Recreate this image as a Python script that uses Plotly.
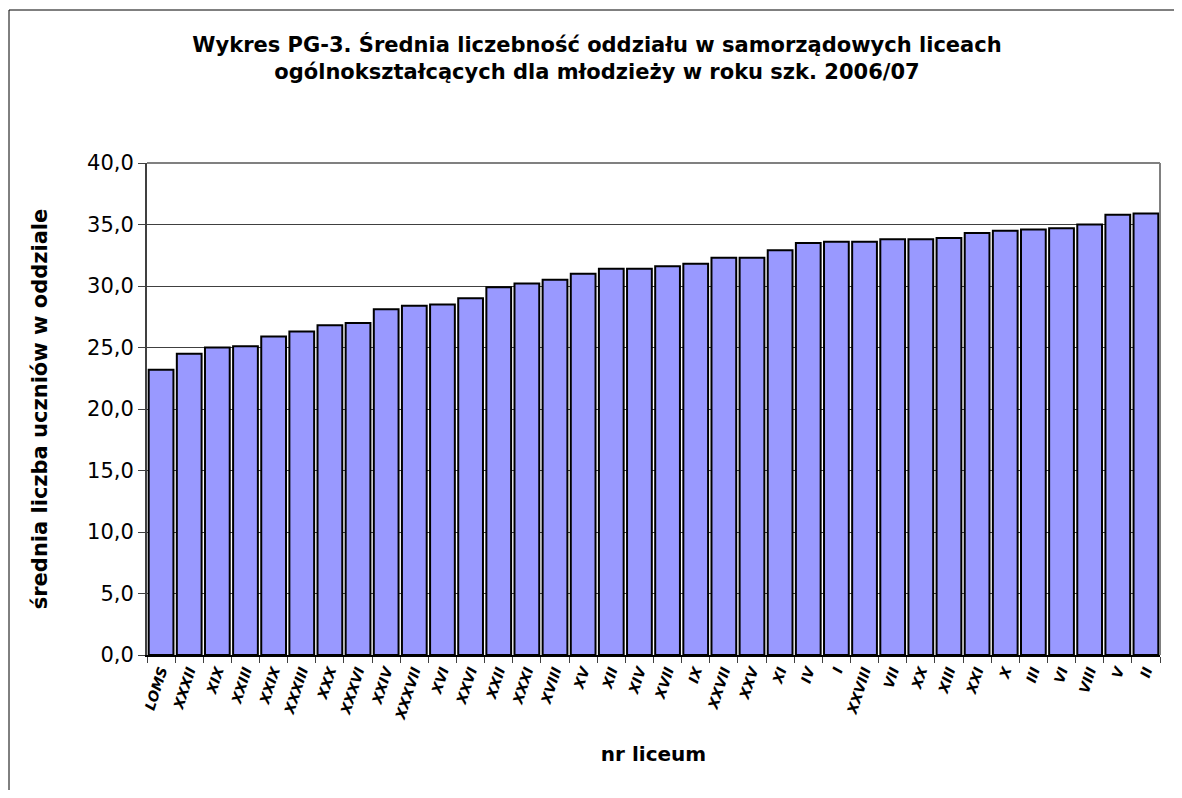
import plotly.graph_objects as go

categories = ["LOMS", "XXXII", "XIX", "XXIII", "XXIX", "XXXIII", "XXX", "XXXVI", "XXIV",
              "XXXVII", "XVI", "XXVI", "XXII", "XXXI", "XVIII", "XV", "XII", "XIV", "XVII",
              "IX", "XXVII", "XXV", "XI", "IV", "I", "XXVIII", "VII", "XX", "XIII", "XXI",
              "X", "III", "VI", "VIII", "V", "II"]
values = [23.2, 24.5, 25.0, 25.1, 25.9, 26.3, 26.8, 27.0, 28.1,
          28.4, 28.5, 29.0, 29.9, 30.2, 30.5, 31.0, 31.4, 31.4, 31.6,
          31.8, 32.3, 32.3, 32.9, 33.5, 33.6, 33.6, 33.8, 33.8, 33.9, 34.3,
          34.5, 34.6, 34.7, 35.0, 35.8, 35.9]
y_ticks = [0, 5, 10, 15, 20, 25, 30, 35, 40]

title_text = ("<b>Wykres PG-3. Średnia liczebność oddziału w samorządowych liceach<br>"
              "ogólnokształcących dla młodzieży w roku szk. 2006/07</b>")

# page body has an 8px margin, so figure coords = screen coords - 8
OFF = 8
W, H = 1182 - 2 * OFF, 798 - 2 * OFF
L, T = 147 - OFF, 163 - OFF
R = W - (1160 - OFF)
B = H - (655 - OFF)
pw, ph = W - L - R, H - T - B

def px_x(p):
    return (p - OFF - L) / pw

def px_y(p):
    return (H - B - (p - OFF)) / ph

fig = go.Figure()
fig.add_trace(go.Bar(
    x=categories, y=values,
    marker=dict(color="#9999FF", line=dict(color="black", width=2)),
    hoverinfo="x+y",
))

font_family = "DejaVu Sans, Arial, sans-serif"

fig.update_layout(
    width=W, height=H,
    margin=dict(l=L, r=R, t=T, b=B),
    paper_bgcolor="white", plot_bgcolor="white",
    bargap=0.12,
    separators=", ",
    showlegend=False,
    font=dict(family=font_family, color="black"),
    title=dict(text=title_text, x=px_x(597), xref="paper", xanchor="center",
               y=1 - (52 - OFF) / H, yanchor="middle",
               font=dict(size=21, family=font_family, color="black")),
    xaxis=dict(
        type="category",
        tickangle=-72,
        tickfont=dict(size=14, family=font_family, color="black", weight="bold", style="italic"),
        ticks="outside", ticklen=6, tickcolor="#404040", tickson="boundaries",
        showline=True, linecolor="black", linewidth=2,
        showgrid=False,
        title=dict(text="<b>nr liceum</b>", font=dict(size=20, family=font_family), standoff=26),
    ),
    yaxis=dict(
        range=[0, 40],
        tickvals=y_ticks,
        tickformat=".1f",
        tickfont=dict(size=21, family=font_family, color="black"),
        ticks="outside", ticklen=7, tickcolor="#404040",
        showline=True, linecolor="#404040", linewidth=2,
        showgrid=True, gridcolor="#404040", gridwidth=1,
        zeroline=False,
        title=dict(text="<b>średnia liczba uczniów w oddziale</b>",
                   font=dict(size=21, family=font_family), standoff=34),
    ),
    shapes=[
        dict(type="line", xref="paper", yref="paper", x0=0, x1=1, y0=1, y1=1,
             line=dict(color="#808080", width=2)),
        dict(type="line", xref="paper", yref="paper", x0=1, x1=1, y0=0, y1=1,
             line=dict(color="#808080", width=2)),
        # outer chart frame: only top and left edges are visible in the original
        dict(type="line", xref="paper", yref="paper",
             x0=px_x(9), x1=px_x(1240), y0=px_y(10), y1=px_y(10),
             line=dict(color="black", width=1), layer="below"),
        dict(type="line", xref="paper", yref="paper",
             x0=px_x(9), x1=px_x(9), y0=px_y(10), y1=px_y(860),
             line=dict(color="black", width=1), layer="below"),
    ],
)

fig.write_html("out.html")
